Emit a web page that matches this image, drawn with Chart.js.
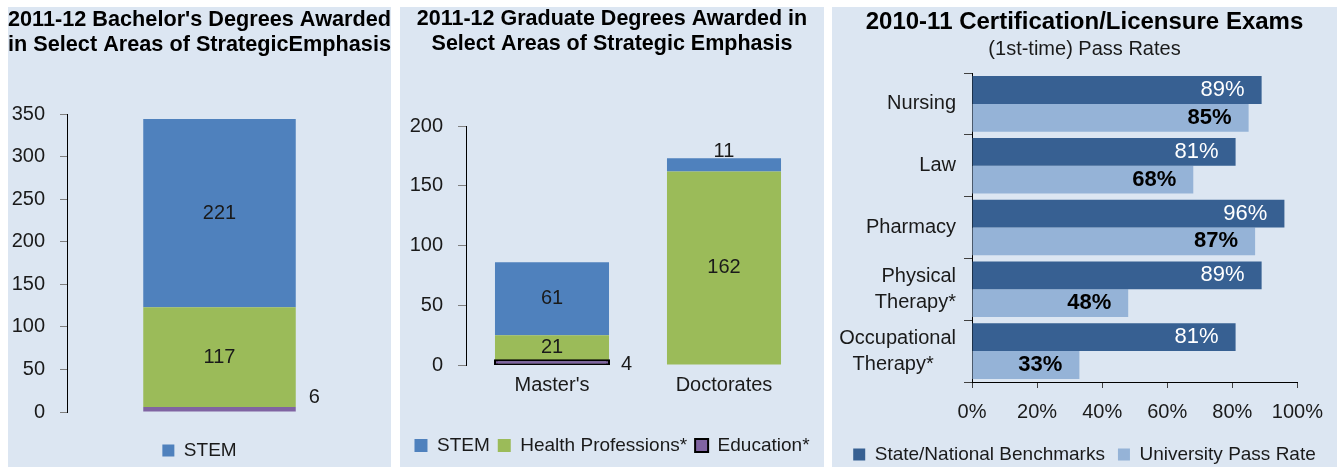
<!DOCTYPE html>
<html>
<head>
<meta charset="utf-8">
<script src="https://cdn.jsdelivr.net/npm/chart.js@4.4.0/dist/chart.umd.min.js"></script>
<style>
body { margin: 0; width: 1337px; height: 467px; overflow: hidden; background: #fff; position: relative; }
.panel { position: absolute; top: 7px; height: 480px; background: #dce6f2; }
canvas { display: block; }
</style>
</head>
<body>
<div class="panel" style="left:8px;width:383px"><canvas id="bach" width="383" height="480"></canvas></div>
<div class="panel" style="left:400px;width:424px"><canvas id="grad" width="424" height="480"></canvas></div>
<div class="panel" style="left:832px;width:505px"><canvas id="exam" width="505" height="480"></canvas></div>
<script>
// data
const bachCategories = [''];
const bachStem = [221];
const bachHealth = [117];
const bachEducation = [6];

const gradCategories = ["Master's", 'Doctorates'];
const gradStem = [61, 11];
const gradHealth = [21, 162];
const gradEducation = [4, 0];

const examCategories = ['Nursing', 'Law', 'Pharmacy', ['Physical', 'Therapy*'], ['Occupational', 'Therapy*    ']];
const examBenchmark = [89, 81, 96, 89, 81];
const examUniversity = [85, 68, 87, 48, 33];

const stemColor = '#4f81bd', healthColor = '#9bbb59', eduColor = '#8064a2';
const darkBlue = '#376092', lightBlue = '#95b3d7';

const face = "'Liberation Sans', Arial, sans-serif";

Chart.defaults.font.family = face;
Chart.defaults.color = '#1a1a1a';
Chart.defaults.animation = false;
Chart.defaults.responsive = false;
Chart.defaults.plugins.tooltip.enabled = false;

// value labels on the bars
const barLabels = {
  id: 'barLabels',
  afterDatasetsDraw(chart, args, opts) {
    const ctx = chart.ctx;
    const horizontal = chart.options.indexAxis === 'y';
    const special = opts.special || [];
    chart.data.datasets.forEach((ds, di) => {
      chart.getDatasetMeta(di).data.forEach((bar, i) => {
        const value = ds.data[i];
        if (!value) return;
        const p = bar.getProps(['x', 'y', 'base', 'width'], true);
        const place = special.find(s => s.ds === di && s.i === i) || {};
        let x = p.x, y = (p.y + p.base) / 2, align = 'center';
        if (horizontal) {
          x = p.x - opts.inset; y = p.y; align = 'right';
        } else if (place.pos === 'right') {
          x = p.x + p.width / 2 + place.dx; y = p.base + place.dy; align = 'left';
        } else if (place.pos === 'top') {
          y = p.y + place.dy;
        }
        ctx.save();
        ctx.font = opts.fonts[di];
        ctx.fillStyle = opts.colors[di];
        ctx.textAlign = align;
        ctx.textBaseline = 'middle';
        ctx.fillText(value + (opts.suffix || ''), x, y);
        ctx.restore();
      });
    });
  }
};

// empty right-hand axis that only reserves room
const spacer = w => ({
  type: 'linear', position: 'right',
  ticks: { display: false }, grid: { display: false, drawTicks: false }, border: { display: false },
  afterFit: s => { s.width = w; }
});

const label20 = '20px ' + face;

// 1. bachelor's degrees
new Chart(document.getElementById('bach'), {
  type: 'bar',
  data: {
    labels: bachCategories,
    datasets: [
      { label: 'Education*', data: bachEducation, backgroundColor: eduColor, yAxisID: 'y' },
      { label: 'Health Professions*', data: bachHealth, backgroundColor: healthColor, yAxisID: 'y' },
      { label: 'STEM', data: bachStem, backgroundColor: stemColor, yAxisID: 'y' }
    ]
  },
  options: {
    layout: { padding: { left: 0, right: 0, top: 0, bottom: 17 } },
    datasets: { bar: { barPercentage: 0.5, categoryPercentage: 1, borderWidth: 0 } },
    scales: {
      x: { stacked: true, display: false },
      y: {
        stacked: true, min: 0, max: 350,
        ticks: { stepSize: 50, padding: 15, font: { size: 20 } },
        grid: { drawOnChartArea: false, tickLength: 7, color: '#7f7f7f' },
        border: { color: '#000' },
        afterFit: s => { s.width = 59; }
      },
      yRight: spacer(19)
    },
    plugins: {
      title: {
        display: true, color: '#000',
        font: { size: 22.5, weight: 'bold', lineHeight: 25 / 22.5 },
        text: ["2011-12 Bachelor's Degrees Awarded", 'in Select Areas of StrategicEmphasis'],
        padding: { top: 0, bottom: 57 }
      },
      legend: {
        position: 'bottom',
        labels: { boxWidth: 12, boxHeight: 12, padding: 29, font: { size: 19 }, filter: item => item.text === 'STEM' }
      },
      barLabels: {
        fonts: [label20, label20, label20],
        colors: ['#1a1a1a', '#1a1a1a', '#1a1a1a'],
        special: [{ ds: 0, i: 0, pos: 'right', dx: 13, dy: -14 }]
      }
    }
  },
  plugins: [barLabels]
});

// 2. graduate degrees
new Chart(document.getElementById('grad'), {
  type: 'bar',
  data: {
    labels: gradCategories,
    datasets: [
      {
        label: 'Education*', data: gradEducation, backgroundColor: eduColor, borderColor: '#000', yAxisID: 'y',
        borderWidth: c => (c.raw === 0 ? 0 : 2), borderSkipped: false,
        inflateAmount: c => (c.raw === 0 ? 0 : 1)
      },
      { label: 'Health Professions*', data: gradHealth, backgroundColor: healthColor, borderWidth: 0, yAxisID: 'y' },
      { label: 'STEM', data: gradStem, backgroundColor: stemColor, borderWidth: 0, yAxisID: 'y' }
    ]
  },
  options: {
    layout: { padding: { left: 0, right: 0, top: 0, bottom: 22 } },
    datasets: { bar: { barPercentage: 0.663, categoryPercentage: 1 } },
    scales: {
      x: {
        stacked: true,
        grid: { display: false, drawTicks: false },
        border: { display: false },
        ticks: { padding: 10, font: { size: 20, lineHeight: 1 } },
        afterFit: s => { s.height = 63; }
      },
      y: {
        stacked: true, min: 0, max: 200,
        ticks: { stepSize: 50, padding: 15, font: { size: 20 } },
        grid: { drawOnChartArea: false, tickLength: 8, color: '#7f7f7f' },
        border: { color: '#000' },
        afterFit: s => { s.width = 66; }
      },
      yRight: spacer(14)
    },
    plugins: {
      title: {
        display: true, color: '#000',
        font: { size: 21.5, weight: 'bold', lineHeight: 25 / 21.5 },
        text: ['2011-12 Graduate Degrees Awarded in', 'Select Areas of Strategic Emphasis'],
        padding: { top: 0, bottom: 69 }
      },
      legend: {
        position: 'bottom', reverse: true,
        labels: { boxWidth: 13, boxHeight: 13, padding: 8, font: { size: 19 } }
      },
      barLabels: {
        fonts: [label20, label20, label20],
        colors: ['#1a1a1a', '#1a1a1a', '#1a1a1a'],
        special: [
          { ds: 0, i: 0, pos: 'right', dx: 12, dy: 0 },
          { ds: 2, i: 1, pos: 'top', dy: -7 }
        ]
      }
    }
  },
  plugins: [barLabels]
});

// 3. licensure exam pass rates
new Chart(document.getElementById('exam'), {
  type: 'bar',
  data: {
    labels: examCategories,
    datasets: [
      { label: 'State/National Benchmarks', data: examBenchmark, backgroundColor: darkBlue, yAxisID: 'y' },
      { label: 'University Pass Rate', data: examUniversity, backgroundColor: lightBlue, yAxisID: 'y' }
    ]
  },
  options: {
    indexAxis: 'y',
    layout: { padding: { left: 0, right: 0, top: 0, bottom: 13 } },
    datasets: { bar: { barPercentage: 1, categoryPercentage: 0.9, borderWidth: 0 } },
    scales: {
      x: {
        min: 0, max: 100,
        ticks: { stepSize: 20, padding: 14, font: { size: 20, lineHeight: 1 }, callback: v => v + '%' },
        grid: { drawOnChartArea: false, tickLength: 6, color: '#404040' },
        border: { color: '#000' },
        afterFit: s => { s.height = 50; }
      },
      y: {
        ticks: { autoSkip: false, padding: 8, font: { size: 20, lineHeight: 1.3 } },
        grid: { drawOnChartArea: false, tickLength: 8, color: '#404040', offset: true },
        border: { color: '#000' },
        afterFit: s => { s.width = 140; }
      },
      yRight: spacer(36)
    },
    plugins: {
      title: {
        display: true, color: '#000',
        font: { size: 24, weight: 'bold', lineHeight: 26 / 24 },
        text: '2010-11 Certification/Licensure Exams',
        padding: { top: 2, bottom: 0 }
      },
      subtitle: {
        display: true, color: '#1a1a1a',
        font: { size: 20, lineHeight: 1.2 },
        text: '(1st-time) Pass Rates',
        padding: { top: 2, bottom: 12 }
      },
      legend: {
        position: 'bottom',
        labels: { boxWidth: 12, boxHeight: 12, padding: 13, font: { size: 19 } }
      },
      barLabels: {
        inset: 17, suffix: '%',
        fonts: ['22px ' + face, 'bold 22px ' + face],
        colors: ['#ffffff', '#000000']
      }
    }
  },
  plugins: [barLabels]
});
</script>
</body>
</html>
